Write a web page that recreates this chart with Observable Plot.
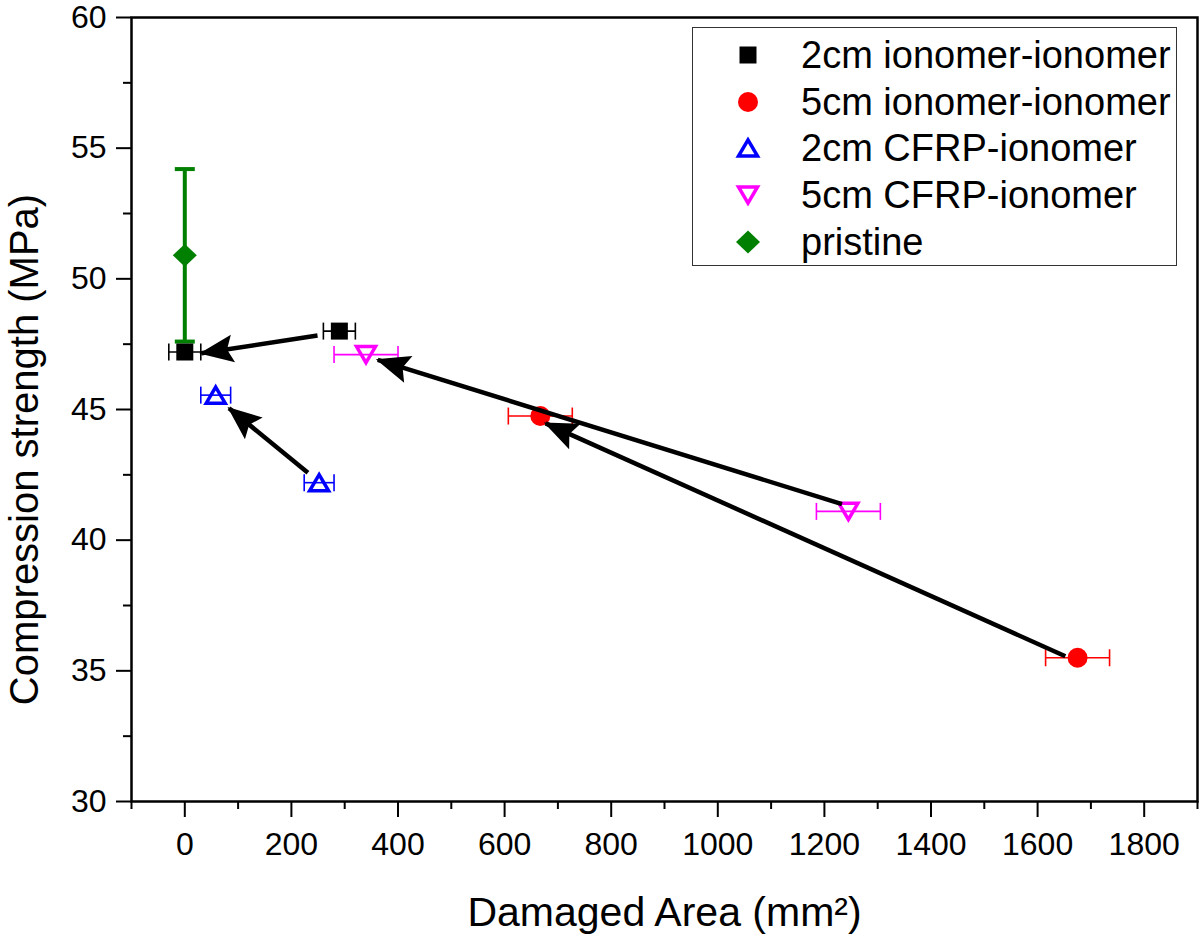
<!DOCTYPE html>
<html>
<head>
<meta charset="utf-8">
<script src="https://cdn.jsdelivr.net/npm/d3@7"></script>
<script src="https://cdn.jsdelivr.net/npm/@observablehq/plot@0.6"></script>
<style>
  html, body { margin: 0; padding: 0; background: #fff; }
  #wrap { position: relative; width: 1200px; height: 938px; font-family: 'Liberation Sans', Arial, sans-serif; }
  #legend { position: absolute; left: 692px; top: 27px; width: 483px; height: 237px; border: 1.5px solid #333; background: #fff; box-sizing: content-box; }
  .row { position: absolute; left: 0; height: 47px; display: flex; align-items: center; }
  .row svg { position: absolute; left: 37px; top: 5px; }
  .row span { position: absolute; left: 108px; font-size: 38px; color: #000; white-space: nowrap; line-height: 47px; top: 0; }
</style>
</head>
<body>
<div id="wrap"></div>
<script>
// ---- data ----
const seriesNames = ["2cm ionomer-ionomer", "5cm ionomer-ionomer", "2cm CFRP-ionomer", "5cm CFRP-ionomer", "pristine"];
const seriesColors = ["#000000", "#ff0000", "#0000ff", "#ff00ff", "#008000"];

const ptSeries   = ["2cm ionomer-ionomer", "2cm ionomer-ionomer", "5cm ionomer-ionomer", "5cm ionomer-ionomer",
                    "2cm CFRP-ionomer", "2cm CFRP-ionomer", "5cm CFRP-ionomer", "5cm CFRP-ionomer", "pristine"];
const ptArea     = [0, 290, 667, 1675, 58, 252, 340, 1245, 0];
const ptStrength = [47.2, 48.0, 44.75, 35.5, 45.55, 42.2, 47.1, 41.1, 50.9];
const ptAreaErr  = [30, 30, 60, 60, 28, 28, 60, 60, 0];
const ptStrengthErr = [0, 0, 0, 0, 0, 0, 0, 0, 3.3];

const arrowFromArea     = [249, 231, 1233, 1652];
const arrowFromStrength = [47.83, 42.58, 41.38, 35.56];
const arrowToArea       = [31, 83, 362, 677];
const arrowToStrength   = [47.15, 45.05, 46.90, 44.47];

const xTicksMajor = [0, 200, 400, 600, 800, 1000, 1200, 1400, 1600, 1800];
const xTicksMinor = [-100, 100, 300, 500, 700, 900, 1100, 1300, 1500, 1700, 1900];
const yTicksMajor = [30, 35, 40, 45, 50, 55, 60];
const yTicksMinor = [32.5, 37.5, 42.5, 47.5, 52.5, 57.5];

const xTitle = "Damaged Area (mm²)";
const yTitle = "Compression strength (MPa)";

// ---- derived table ----
const rows = ptSeries.map((s, i) => ({
  series: s, area: ptArea[i], strength: ptStrength[i],
  xe: ptAreaErr[i], ye: ptStrengthErr[i]
}));
const arrows = arrowFromArea.map((d, i) => ({
  x1: d, y1: arrowFromStrength[i], x2: arrowToArea[i], y2: arrowToStrength[i]
}));

// ---- custom symbols (r = sqrt(size/pi) = half-width) ----
const R = (size) => Math.sqrt(size / Math.PI);
const symSquare = { draw(c, s) { const r = R(s); c.rect(-r, -r, 2 * r, 2 * r); } };
const symCircle = { draw(c, s) { const r = R(s); c.moveTo(r, 0); c.arc(0, 0, r, 0, 2 * Math.PI); } };
const symTriUp = { draw(c, s) { const r = R(s), h = r * 1.7; c.moveTo(0, -h / 2); c.lineTo(r, h / 2); c.lineTo(-r, h / 2); c.closePath(); } };
const symTriDown = { draw(c, s) { const r = R(s), h = r * 1.7; c.moveTo(0, h / 2); c.lineTo(r, -h / 2); c.lineTo(-r, -h / 2); c.closePath(); } };
const symDiamond = { draw(c, s) { const r = R(s), v = r * 0.95; c.moveTo(0, -v); c.lineTo(r, 0); c.lineTo(0, v); c.lineTo(-r, 0); c.closePath(); } };
const symVLine = { draw(c, s) { const r = R(s); c.moveTo(0, -r); c.lineTo(0, r); } };
const symHLine = { draw(c, s) { const r = R(s); c.moveTo(-r, 0); c.lineTo(r, 0); } };

function headMarker(color, context) {
  const ns = "http://www.w3.org/2000/svg";
  const doc = (context && context.document) || document;
  const m = doc.createElementNS(ns, "marker");
  m.setAttribute("viewBox", "-34 -15 37 30");
  m.setAttribute("markerWidth", 37);
  m.setAttribute("markerHeight", 30);
  m.setAttribute("refX", 0);
  m.setAttribute("refY", 0);
  m.setAttribute("markerUnits", "userSpaceOnUse");
  m.setAttribute("orient", "auto");
  const p = doc.createElementNS(ns, "path");
  p.setAttribute("d", "M2,0L-32,-14L-26,0L-32,14Z");
  p.setAttribute("fill", color);
  p.setAttribute("stroke", "none");
  m.appendChild(p);
  return m;
}

const by = (s) => rows.filter((d) => d.series === s);
const xErrRows = rows.filter((d) => d.xe > 0);
const yErrRows = rows.filter((d) => d.ye > 0);
const colorOf = (s) => seriesColors[seriesNames.indexOf(s)];

function build(marker) {
  return Plot.plot({
    width: 1200,
    height: 938,
    marginLeft: 131,
    marginRight: 3,
    marginTop: 17,
    marginBottom: 137,
    x: { domain: [-100, 1900] },
    y: { domain: [30, 60] },
    style: { fontFamily: "'Liberation Sans', Arial, sans-serif", fontSize: "32px", color: "#000", background: "#fff" },
    marks: [
      // axes
      Plot.axisX({ ticks: xTicksMinor, tickSize: 8, tickFormat: () => "", label: null, strokeWidth: 2 }),
      Plot.axisX({ ticks: xTicksMajor, tickSize: 16, tickPadding: 15, tickFormat: (d) => String(d), label: null, strokeWidth: 2, fontSize: 32 }),
      Plot.axisY({ ticks: yTicksMinor, tickSize: 8, tickFormat: () => "", label: null, strokeWidth: 2 }),
      Plot.axisY({ ticks: yTicksMajor, tickSize: 15, tickPadding: 10, tickFormat: (d) => String(d), label: null, strokeWidth: 2, fontSize: 32 }),
      Plot.frame({ stroke: "#000", strokeWidth: 2.5 }),
      // titles
      Plot.text([xTitle], { frameAnchor: "bottom", textAnchor: "middle", dy: 124, fontSize: 41, fill: "#000" }),
      Plot.text([yTitle], { frameAnchor: "left", textAnchor: "middle", dx: -106, dy: 40, rotate: -90, fontSize: 40, fill: "#000" }),
      // error bars (horizontal)
      Plot.link(xErrRows, { x1: (d) => d.area - d.xe, x2: (d) => d.area + d.xe, y1: "strength", y2: "strength", stroke: (d) => colorOf(d.series), strokeWidth: 1.6 }),
      Plot.dot(xErrRows, { x: (d) => d.area - d.xe, y: "strength", symbol: symVLine, r: 8.5, stroke: (d) => colorOf(d.series), strokeWidth: 1.6, fill: "none" }),
      Plot.dot(xErrRows, { x: (d) => d.area + d.xe, y: "strength", symbol: symVLine, r: 8.5, stroke: (d) => colorOf(d.series), strokeWidth: 1.6, fill: "none" }),
      // error bars (vertical, pristine)
      Plot.link(yErrRows, { x1: "area", x2: "area", y1: (d) => d.strength - d.ye, y2: (d) => d.strength + d.ye, stroke: (d) => colorOf(d.series), strokeWidth: 4 }),
      Plot.dot(yErrRows, { x: "area", y: (d) => d.strength + d.ye, symbol: symHLine, r: 10, stroke: (d) => colorOf(d.series), strokeWidth: 4, fill: "none" }),
      Plot.dot(yErrRows, { x: "area", y: (d) => d.strength - d.ye, symbol: symHLine, r: 10, stroke: (d) => colorOf(d.series), strokeWidth: 4, fill: "none" }),
      // points
      Plot.dot(by(seriesNames[0]), { x: "area", y: "strength", symbol: symSquare, r: 8.5, fill: seriesColors[0], stroke: "none" }),
      Plot.dot(by(seriesNames[1]), { x: "area", y: "strength", symbol: symCircle, r: 10, fill: seriesColors[1], stroke: "none" }),
      Plot.dot(by(seriesNames[2]), { x: "area", y: "strength", symbol: symTriUp, r: 9.5, fill: "none", stroke: seriesColors[2], strokeWidth: 3.5 }),
      Plot.dot(by(seriesNames[3]), { x: "area", y: "strength", symbol: symTriDown, r: 9.5, fill: "none", stroke: seriesColors[3], strokeWidth: 3.5 }),
      Plot.dot(by(seriesNames[4]), { x: "area", y: "strength", symbol: symDiamond, r: 12, fill: seriesColors[4], stroke: "none" }),
      // arrows
      Plot.link(arrows, { x1: "x1", y1: "y1", x2: "x2", y2: "y2", stroke: "#000", strokeWidth: 4.5, markerEnd: marker })
    ]
  });
}

let chart;
try { chart = build(headMarker); } catch (e) { chart = build("arrow"); }
const wrap = document.getElementById("wrap");
wrap.appendChild(chart);

// ---- legend (HTML overlay inside the plot frame) ----
const legendSyms = [
  { sym: symSquare, r: 8.5, fill: seriesColors[0], stroke: "none", sw: 0 },
  { sym: symCircle, r: 10, fill: seriesColors[1], stroke: "none", sw: 0 },
  { sym: symTriUp, r: 9.5, fill: "none", stroke: seriesColors[2], sw: 3.5 },
  { sym: symTriDown, r: 9.5, fill: "none", stroke: seriesColors[3], sw: 3.5 },
  { sym: symDiamond, r: 12, fill: seriesColors[4], stroke: "none", sw: 0 }
];
const legend = document.createElement("div");
legend.id = "legend";
const rowTops = [4, 51, 97, 144, 191];
seriesNames.forEach((name, i) => {
  const row = document.createElement("div");
  row.className = "row";
  row.style.top = rowTops[i] + "px";
  const s = legendSyms[i];
  const path = d3.symbol(s.sym, Math.PI * s.r * s.r)();
  row.innerHTML = `<svg width="36" height="36" viewBox="-18 -18 36 36"><path d="${path}" fill="${s.fill}" stroke="${s.stroke}" stroke-width="${s.sw}"/></svg><span>${name}</span>`;
  legend.appendChild(row);
});
wrap.appendChild(legend);
</script>
</body>
</html>
